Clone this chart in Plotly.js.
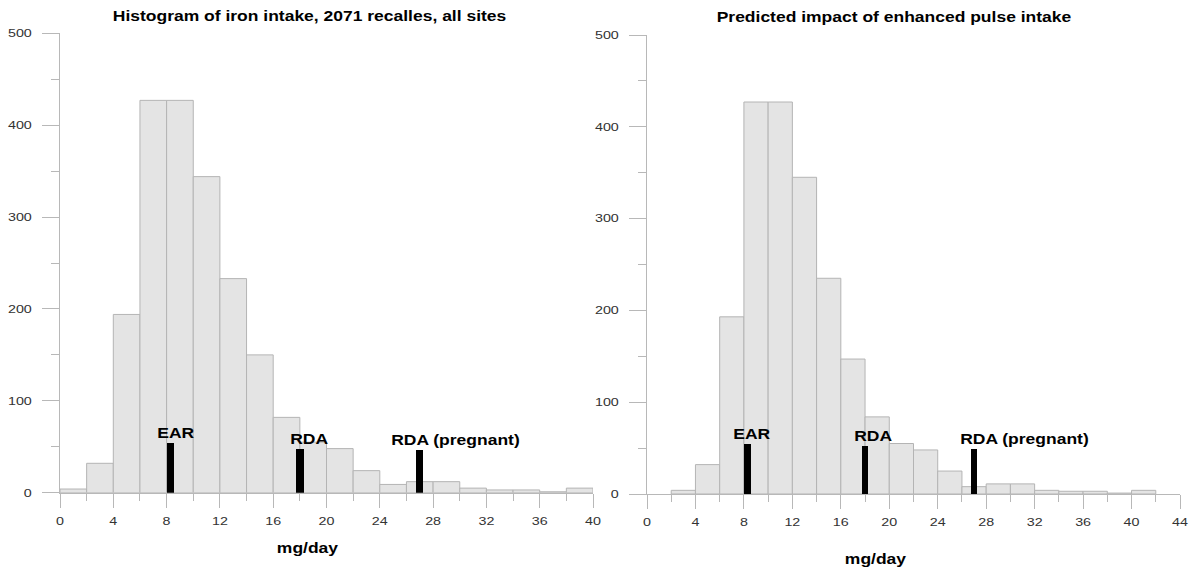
<!DOCTYPE html>
<html>
<head>
<meta charset="utf-8">
<script src="https://cdn.plot.ly/plotly-3.0.1.min.js"></script>
<style>
  html, body { margin: 0; padding: 0; background: #fff; }
  #chart { width: 1194px; height: 570px; }
</style>
</head>
<body>
<div id="chart"></div>
<script>
// ---- data ----
const binWidth = 2;
const binStartsLeft = [0, 2, 4, 6, 8, 10, 12, 14, 16, 18, 20, 22, 24, 26, 28, 30, 32, 34, 36, 38];
const countsLeft    = [4, 32, 194, 427, 427, 344, 233, 150, 82, 55, 48, 24, 9, 12, 12, 5, 3, 3, 1, 5];
const binStartsRight = [2, 4, 6, 8, 10, 12, 14, 16, 18, 20, 22, 24, 26, 28, 30, 32, 34, 36, 38, 40];
const countsRight    = [4, 32, 193, 427, 427, 345, 235, 147, 84, 55, 48, 25, 8, 11, 11, 4, 3, 3, 1, 4];

const refLabels = ["EAR", "RDA", "RDA (pregnant)"];
const refValues = [8.3, 18, 27];
const refHeightsLeft  = [54, 48, 46];
const refHeightsRight = [55, 52, 49];

const leftTitle  = "Histogram of iron intake, 2071 recalles, all sites";
const rightTitle = "Predicted impact of enhanced pulse intake";
const xTitle = "mg/day";

// ---- build ----
const W = 1194, H = 570;
const px = v => v / W;
const py = v => (H - v) / H;

const centers = starts => starts.map(s => s + binWidth / 2);

const histStyle = {
  type: 'bar', width: binWidth,
  marker: { color: '#e4e4e4', line: { color: '#b4b4b4', width: 1 } },
  hoverinfo: 'x+y', showlegend: false
};
const refStyle = {
  type: 'bar', width: 0.55, textposition: 'none',
  marker: { color: '#000000', line: { width: 0 } },
  showlegend: false
};

const traces = [
  Object.assign({}, histStyle, { x: centers(binStartsLeft), y: countsLeft, xaxis: 'x', yaxis: 'y' }),
  Object.assign({}, histStyle, { x: centers(binStartsRight), y: countsRight, xaxis: 'x2', yaxis: 'y2' }),
  Object.assign({}, refStyle, { x: refValues, y: refHeightsLeft, hovertext: refLabels, hoverinfo: 'text', xaxis: 'x', yaxis: 'y' }),
  Object.assign({}, refStyle, { x: refValues, y: refHeightsRight, hovertext: refLabels, hoverinfo: 'text', xaxis: 'x2', yaxis: 'y2' })
];

const tickFont = { family: 'Liberation Sans, Arial, sans-serif', size: 11, color: '#333' };
const boldFont = { family: 'Liberation Sans, Arial, sans-serif', size: 14, color: '#000', weight: 'bold' };
const axisGrey = '#b8b8b8';

function xAxis(domain, range, anchor) {
  return {
    domain: domain, range: range, anchor: anchor,
    tickmode: 'linear', tick0: 0, dtick: 4,
    ticks: 'outside', ticklen: 14, tickwidth: 1, tickcolor: axisGrey,
    minor: { ticks: 'outside', dtick: 2, ticklen: 7, tickcolor: axisGrey, tickwidth: 1, showgrid: false },
    showline: true, linecolor: axisGrey, linewidth: 1,
    showgrid: false, zeroline: false,
    tickfont: Object.assign({}, tickFont), ticklabelstandoff: 4, fixedrange: true
  };
}
function yAxis(domain, anchor) {
  return {
    domain: domain, range: [0, 500], anchor: anchor,
    tickmode: 'linear', tick0: 0, dtick: 100,
    ticks: 'outside', ticklen: 17, tickwidth: 1, tickcolor: axisGrey,
    minor: { ticks: 'outside', dtick: 50, ticklen: 8, tickcolor: axisGrey, tickwidth: 1, showgrid: false },
    showline: true, linecolor: axisGrey, linewidth: 1,
    showgrid: false, zeroline: false,
    tickfont: Object.assign({}, tickFont), ticklabelstandoff: 8, fixedrange: true
  };
}

// label offsets (pixels) relative to each reference bar
const labelShiftLeft  = [5, 9, 36];
const labelShiftRight = [4, 8, 50];

const annotations = [];
refLabels.forEach((lab, i) => {
  annotations.push({ xref: 'x', yref: 'y', x: refValues[i], y: refHeightsLeft[i], text: '<b>' + lab + '</b>',
    showarrow: false, xanchor: 'center', yanchor: 'middle', xshift: labelShiftLeft[i], yshift: 10, font: boldFont });
  annotations.push({ xref: 'x2', yref: 'y2', x: refValues[i], y: refHeightsRight[i], text: '<b>' + lab + '</b>',
    showarrow: false, xanchor: 'center', yanchor: 'middle', xshift: labelShiftRight[i], yshift: 10, font: boldFont });
});
annotations.push({ xref: 'paper', yref: 'paper', x: px(309), y: py(16), text: '<b>' + leftTitle + '</b>',
  showarrow: false, xanchor: 'center', yanchor: 'middle', font: boldFont });
annotations.push({ xref: 'paper', yref: 'paper', x: px(894), y: py(17), text: '<b>' + rightTitle + '</b>',
  showarrow: false, xanchor: 'center', yanchor: 'middle', font: boldFont });
annotations.push({ xref: 'paper', yref: 'paper', x: px(307), y: py(548), text: '<b>' + xTitle + '</b>',
  showarrow: false, xanchor: 'center', yanchor: 'middle', font: boldFont });
annotations.push({ xref: 'paper', yref: 'paper', x: px(875), y: py(559), text: '<b>' + xTitle + '</b>',
  showarrow: false, xanchor: 'center', yanchor: 'middle', font: boldFont });

const layout = {
  width: W, height: H,
  margin: { l: 0, r: 0, t: 0, b: 0, pad: 0 },
  paper_bgcolor: '#fff', plot_bgcolor: '#fff',
  barmode: 'overlay', bargap: 0,
  showlegend: false,
  xaxis:  xAxis([px(60), px(593)], [0, 40], 'y'),
  yaxis:  yAxis([py(492.7), py(33.3)], 'x'),
  xaxis2: xAxis([px(647), px(1180)], [0, 44], 'y2'),
  yaxis2: yAxis([py(494), py(35)], 'x2'),
  annotations: annotations
};

// The reference's lettering is horizontally wide; widen the real text glyphs.
function widen(sel, factor, anchorMode) {
  document.querySelectorAll(sel).forEach(t => {
    const bb = t.getBBox();
    const cx = anchorMode === 'end' ? bb.x + bb.width : bb.x + bb.width / 2;
    const orig = t.getAttribute('transform') || '';
    t.setAttribute('transform', orig + ' translate(' + cx + ',0) scale(' + factor + ',1) translate(' + (-cx) + ',0)');
  });
}

Plotly.newPlot('chart', traces, layout, { displayModeBar: false, staticPlot: true }).then(() => {
  widen('#chart .xtick text, #chart .x2tick text', 1.3, 'middle');
  widen('#chart .ytick text, #chart .y2tick text', 1.3, 'end');
  widen('#chart .annotation-text-g text', 1.25, 'middle');
});
</script>
</body>
</html>
